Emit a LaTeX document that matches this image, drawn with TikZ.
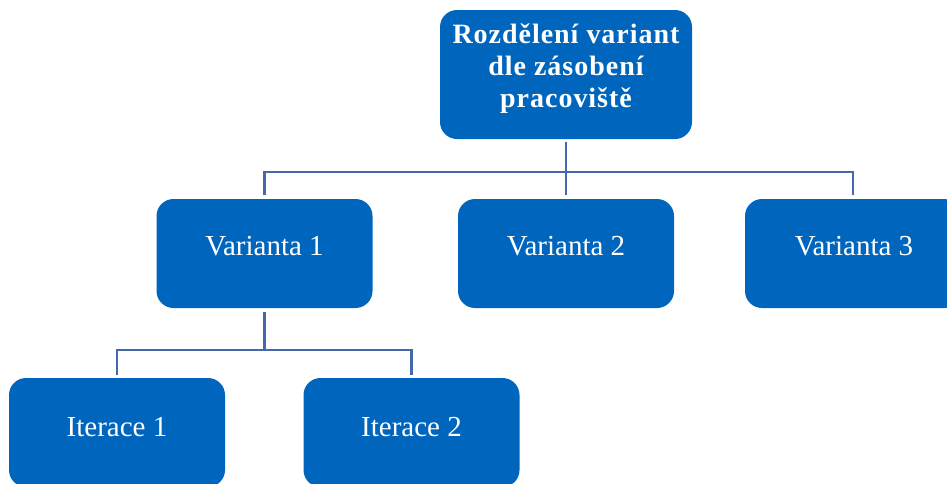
\documentclass[tikz,border=0pt]{standalone}
\usepackage{fontspec}
\setmainfont{Liberation Serif}
\definecolor{boxblue}{RGB}{0,102,189}
\definecolor{linkblue}{RGB}{68,104,170}
\tikzset{
  box/.style={fill=boxblue, draw=none, rounded corners=17pt, minimum width=216pt, minimum height=109pt, inner sep=0pt},
  txt/.style={text=white, font=\fontsize{29}{32}\selectfont, inner sep=0pt},
  toptxt/.style={text=white, align=center, inner sep=0pt, font=\addfontfeature{LetterSpace=3.5}\fontsize{28}{32}\selectfont\bfseries},
  conn/.style={draw=linkblue, line width=2.6pt}
}
\begin{document}
\begin{tikzpicture}[x=1pt,y=-1pt]
\useasboundingbox (0,0) rectangle (947,483);
\node[box, minimum width=252pt, minimum height=129pt] (top) at (566,74.5) {};
\node[toptxt] (toptext) at (566,69) {Rozdělení variant\\dle zásobení\\pracoviště};
\node[box] (v1) at (264.5,253.5) {};
\node[box] (v2) at (566,253.5) {};
\node[box] (v3) at (853,253.5) {};
\node[txt] (v1t) at (264.5,246) {Varianta 1};
\node[txt] (v2t) at (566,246) {Varianta 2};
\node[txt] (v3t) at (854,246) {Varianta 3};
\node[box] (i1) at (117,432.5) {};
\node[box] (i2) at (411.5,432.5) {};
\node[txt] (i1t) at (117,427) {Iterace 1};
\node[txt] (i2t) at (411.5,427) {Iterace 2};
\coordinate (bus1) at (566,172);
\coordinate (bus2) at (264.5,350);
\draw[conn] ([yshift=-3pt]top.south) -- ([yshift=4pt]v2.north);
\draw[conn] ([yshift=4pt]v1.north) -- (v1.north |- bus1) -- (v3.north |- bus1) -- ([yshift=4pt]v3.north);
\draw[conn] ([yshift=-4pt]v1.south) -- (bus2);
\draw[conn] ([yshift=3pt]i1.north) -- (i1.north |- bus2) -- (i2.north |- bus2) -- ([yshift=3pt]i2.north);
\end{tikzpicture}
\end{document}
